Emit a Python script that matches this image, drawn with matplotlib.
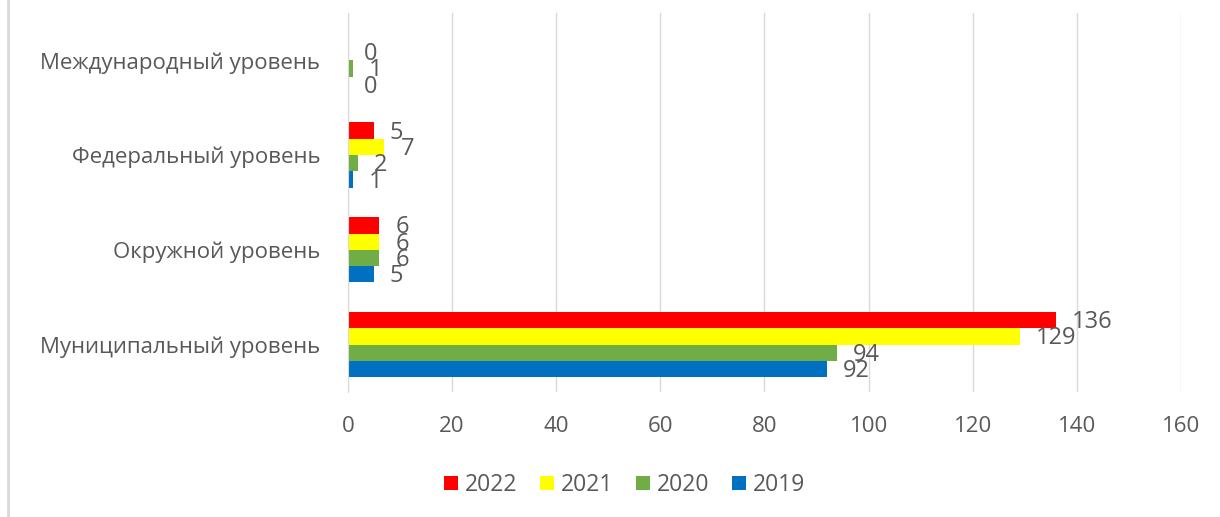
import numpy as np
import matplotlib.pyplot as plt
from matplotlib.lines import Line2D

plt.rcParams['font.family'] = ['Open Sans', 'DejaVu Sans']

categories = ['Муниципальный уровень', 'Окружной уровень',
              'Федеральный уровень', 'Международный уровень']
years = ['2019', '2020', '2021', '2022']
v2019 = [92, 5, 1, 0]
v2020 = [94, 6, 2, 1]
v2021 = [129, 6, 7, 0]
v2022 = [136, 6, 5, np.nan]

series = [v2019, v2020, v2021, v2022]
colors = ['#0070C0', '#70AD47', '#FFFF00', '#FF0000']
txt = '#595959'

fig = plt.figure(figsize=(12.2, 5.17), dpi=100)
ax = fig.add_axes([0.2852, 0.2418, 0.6828, 0.7332])

y = np.arange(len(categories))
h = 0.172
for i, (vals, c) in enumerate(zip(series, colors)):
    pos = y - 1.5 * h + i * h
    vals = np.array(vals, dtype=float)
    ax.barh(pos, np.nan_to_num(vals), height=h, color=c,
            label=years[i])
    for p, v in zip(pos, vals):
        if np.isnan(v):
            continue
        ax.annotate(f'{int(v)}', xy=(v, p), xytext=(16, -2),
                    textcoords='offset pixels', ha='left', va='center',
                    fontsize=17, color=txt)

ax.set_xlim(0, 160)
ax.set_ylim(-0.5, 3.5)
ax.set_xticks(np.arange(0, 161, 20))
ax.set_yticks(y)
ax.set_yticklabels(categories)
ax.tick_params(axis='both', length=0, labelsize=16, labelcolor=txt)
ax.tick_params(axis='x', pad=17)
ax.tick_params(axis='y', pad=20)
ax.grid(axis='x', color='#d9d9d9', linewidth=1)
ax.set_axisbelow(True)
for s in ['top', 'right', 'bottom']:
    ax.spines[s].set_visible(False)
ax.spines['left'].set_color('#d9d9d9')

handles, labels = ax.get_legend_handles_labels()
leg = fig.legend(handles[::-1], labels[::-1], loc='center',
                 bbox_to_anchor=(0.512, 0.062), ncol=4, frameon=False,
                 fontsize=16.5, handlelength=0.6, handleheight=0.6,
                 handletextpad=0.3, columnspacing=1.0)
for t in leg.get_texts():
    t.set_color(txt)

# chart frame line on the left
fig.add_artist(Line2D([0.0066, 0.0066], [0.0, 1.0], color='#d9d9d9',
                      linewidth=2, transform=fig.transFigure))

fig.savefig('out.png', dpi=100, facecolor='white')
